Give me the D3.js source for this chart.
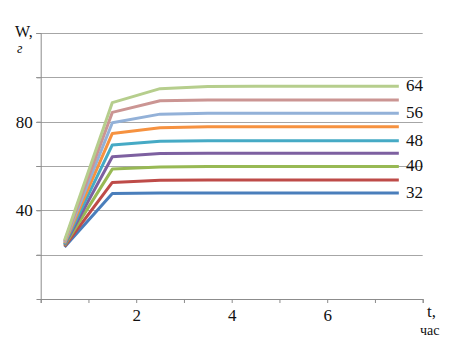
<!DOCTYPE html>
<html><head><meta charset="utf-8">
<script src="https://cdn.jsdelivr.net/npm/d3@7"></script>
<style>body{margin:0;background:#fff}svg{display:block}</style>
</head><body><svg id="c" width="459" height="344"></svg>
<script>
const times = [0.5, 1.5, 2.5, 3.5, 4.5, 5.5, 6.5, 7.5];
const s32 = [23.5, 47.6, 47.8, 47.8, 47.8, 47.8, 47.8, 47.8];
const s36 = [23.8, 52.6, 53.6, 53.7, 53.7, 53.7, 53.7, 53.7];
const s40 = [24.2, 58.6, 59.6, 59.8, 59.8, 59.8, 59.8, 59.8];
const s44 = [24.5, 64.2, 65.6, 65.8, 65.8, 65.8, 65.8, 65.8];
const s48 = [24.8, 69.5, 71.2, 71.4, 71.4, 71.4, 71.4, 71.4];
const s52 = [25.2, 74.7, 77.3, 77.7, 77.7, 77.7, 77.7, 77.7];
const s56 = [25.6, 79.5, 83.4, 83.8, 83.8, 83.8, 83.8, 83.8];
const s60 = [26.0, 84.2, 89.4, 89.8, 89.8, 89.8, 89.8, 89.8];
const s64 = [26.5, 88.6, 94.9, 95.9, 96.0, 96.0, 96.0, 96.0];
const seriesNames = ["32","36","40","44","48","52","56","60","64"];
const seriesValues = [s32, s36, s40, s44, s48, s52, s56, s60, s64];
const colors = ["#4A7EBB","#BE4B48","#98B954","#7D60A0","#46AAC5","#F69240","#93B1D8","#CB9593","#B6CE8D"];
const labeled = ["64","56","48","40","32"];
const yTickLabels = [40, 80];
const xTickLabels = [2, 4, 6];

const FONT = "'Liberation Serif','Times New Roman',serif";
const svg = d3.select("#c");
const x = d3.scaleLinear().domain([0, 8]).range([40.7, 422.7]);
const y = d3.scaleLinear().domain([0, 120]).range([299, 33]);

// gridlines
svg.append("g").selectAll("line").data(d3.range(20, 121, 20)).join("line")
  .attr("x1", 36).attr("x2", x(8)).attr("y1", d => Math.round(y(d)) + 0.5).attr("y2", d => Math.round(y(d)) + 0.5)
  .attr("stroke", "#a6a6a6").attr("stroke-width", 1);

// y axis
const yAxis = d3.axisLeft(y).tickValues(d3.range(0, 121, 20)).tickSize(4).tickFormat(d => yTickLabels.includes(d) ? d : "");
const ya = svg.append("g").attr("transform", `translate(${x(0)},0)`).call(yAxis);
ya.select(".domain").attr("stroke", "#8c8c8c");
ya.selectAll(".tick line").attr("stroke", "#8c8c8c");
ya.selectAll(".tick text").style("font-family", FONT).style("font-size", "17px").attr("fill", "#111").attr("x", -8);

// x axis
const xAxis = d3.axisBottom(x).tickValues(d3.range(0, 9, 1)).tickSize(4).tickFormat(d => xTickLabels.includes(d) ? d : "");
const xa = svg.append("g").attr("transform", `translate(0,${y(0)})`).call(xAxis);
xa.select(".domain").attr("stroke", "#8c8c8c");
xa.selectAll(".tick line").attr("stroke", "#8c8c8c");
xa.selectAll(".tick text").style("font-family", FONT).style("font-size", "17px").attr("fill", "#111").attr("y", 10);

// lines
const line = d3.line().x((d, i) => x(times[i])).y(d => y(d));
svg.append("g").selectAll("path").data(seriesValues).join("path")
  .attr("d", d => line(d)).attr("fill", "none")
  .attr("stroke", (d, i) => colors[i]).attr("stroke-width", 3).attr("stroke-linejoin", "round");

// series labels
svg.append("g").selectAll("text").data(labeled).join("text")
  .attr("x", 406).attr("y", n => y(seriesValues[seriesNames.indexOf(n)][7]) + 1)
  .attr("dominant-baseline", "middle").style("font-family", FONT).style("font-size", "17px").attr("fill", "#111").text(n => n);

// axis titles
const t = (xx, yy, s, txt, it) => svg.append("text").attr("x", xx).attr("y", yy)
  .style("font-family", FONT).style("font-size", s + "px").style("font-style", it ? "italic" : "normal").attr("fill", "#111").text(txt);
t(15, 37, 16, "W,");
t(17, 53, 14, "г", true);
t(427, 317, 17, "t,");
t(420, 335, 14, "час");
</script></body></html>
